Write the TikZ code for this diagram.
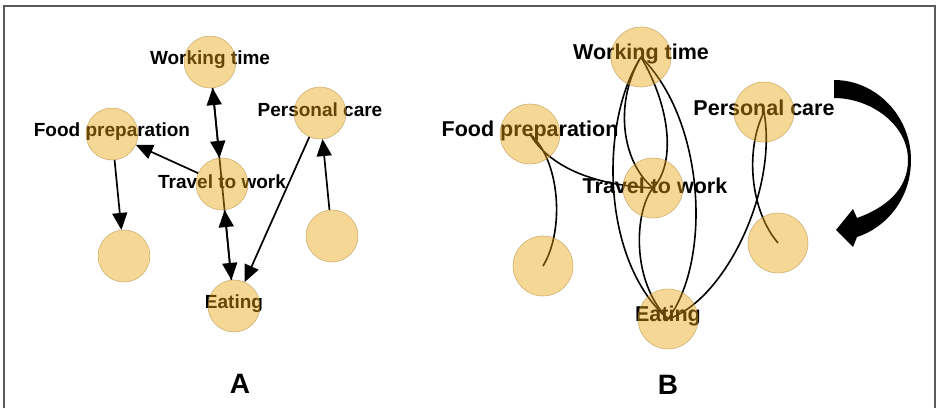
\documentclass[tikz,border=0pt]{standalone}
\usepackage{fontspec}
\setmainfont{Liberation Sans}
\usetikzlibrary{arrows.meta}
\definecolor{discfill}{RGB}{232,162,12}
\definecolor{discline}{RGB}{180,140,60}
\definecolor{framegray}{RGB}{90,90,90}

\begin{document}
\begin{tikzpicture}[x=1pt,y=-1pt,
  spotA/.style={circle,minimum size=52pt,inner sep=0pt},
  spotB/.style={circle,minimum size=60pt,inner sep=0pt},
  disc/.style={fill=discfill,fill opacity=0.43,draw=discline,draw opacity=0.6,line width=0.6pt},
  labA/.style={font=\fontsize{19}{22}\selectfont\bfseries,inner sep=0pt},
  labB/.style={font=\fontsize{21.5}{25}\selectfont\bfseries,inner sep=0pt},
  panel/.style={font=\fontsize{28}{32}\selectfont\bfseries},
  link/.style={black,line width=1.7pt},
  arc/.style={black,line width=1.6pt}]
  \useasboundingbox (0,0) rectangle (940,408);
  \draw[framegray,line width=1.5pt] (4,408) -- (4,6) -- (935,6) -- (935,408);

  % places, panel A
  \node[spotA] (workA) at (210,62) {};
  \node[spotA] (foodA) at (112,134) {};
  \node[spotA] (careA) at (320,113) {};
  \node[spotA] (travA) at (222,184) {};
  \node[spotA] (leftA) at (124,256) {};
  \node[spotA] (rightA) at (332,236) {};
  \node[spotA] (eatA) at (234,306) {};
  % places, panel B
  \node[spotB] (workB) at (641,57) {};
  \node[spotB] (foodB) at (530,134) {};
  \node[spotB] (careB) at (764,112) {};
  \node[spotB] (travB) at (653,188) {};
  \node[spotB] (leftB) at (543,266) {};
  \node[spotB] (rightB) at (778,243) {};
  \node[spotB] (eatB) at (668,319) {};

  % labels (under the discs)
  \node[labA] (workAt) at (210,60) {Working time};
  \node[labA] (foodAt) at (112,132) {Food preparation};
  \node[labA] (careAt) at (320,110) {Personal care};
  \node[labA] (travAt) at (222,182) {Travel to work};
  \node[labA] (eatAt) at (234,304) {Eating};
  \node[labB] (workBt) at (641,54) {Working time};
  \node[labB] (foodBt) at (530,131) {Food preparation};
  \node[labB] (careBt) at (764,108) {Personal care};
  \node[labB] (travBt) at (655,186) {Travel to work};
  \node[labB] (eatBt) at (668,316) {Eating};
  \node[panel] (capA) at (240,384) {A};
  \node[panel] (capB) at (668,385) {B};

  % line through travel (A)
  \draw[link] (workA) -- (eatA);

  % curves (B)
  \draw[arc] (foodB.center) .. controls (548,165) and (590,185) .. (travB.center);
  \draw[arc] (foodB.center) .. controls (560,160) and (565,230) .. (leftB.center);
  \draw[arc] (workB.center) .. controls (600,120) and (600,260) .. (eatB.center);
  \draw[arc] (workB.center) .. controls (615,100) and (620,160) .. (travB.center);
  \draw[arc] (workB.center) .. controls (672,110) and (675,165) .. (travB.center);
  \draw[arc] (travB.center) .. controls (635,210) and (630,280) .. (eatB.center);
  \draw[arc] (workB.center) .. controls (705,120) and (712,260) .. (eatB.center);
  \draw[arc] (eatB.center) .. controls (725,300) and (778,190) .. (careB.center);
  \draw[arc] (careB.center) .. controls (745,150) and (750,210) .. (rightB.center);

  % discs
  \foreach \n in {workA,foodA,careA,travA,leftA,rightA,eatA}
    \node[spotA,disc] at (\n) {};
  \foreach \n in {workB,foodB,careB,travB,leftB,rightB,eatB}
    \node[spotB,disc] at (\n) {};

  % arrows (A)
  \draw [{Triangle[length=17pt,width=15pt]}-{Triangle[length=17pt,width=15pt]}][link] (workA) -- (travA);
  \draw [{Triangle[length=17pt,width=15pt]}-{Triangle[length=17pt,width=15pt]}][link] (travA) -- (eatA);
  \draw [-{Triangle[length=17pt,width=15pt]}][link] (travA) -- (foodA);
  \draw [-{Triangle[length=17pt,width=15pt]}][link] (foodA) -- (leftA);
  \draw [-{Triangle[length=17pt,width=15pt]}][link] (careA) -- (eatA);
  \draw [-{Triangle[length=17pt,width=15pt]}][link] (rightA) -- (careA);

  % big turning arrow
  \fill[black] (834,80) .. controls (876,80) and (911,116) .. (911,160)
    .. controls (911,200) and (885,228) .. (857,237)
    -- (853,247) -- (836,230) -- (853,209) -- (857,218)
    .. controls (885,208) and (908,190) .. (908,160)
    .. controls (908,124) and (870,98) .. (834,98) -- cycle;
\end{tikzpicture}
\end{document}
